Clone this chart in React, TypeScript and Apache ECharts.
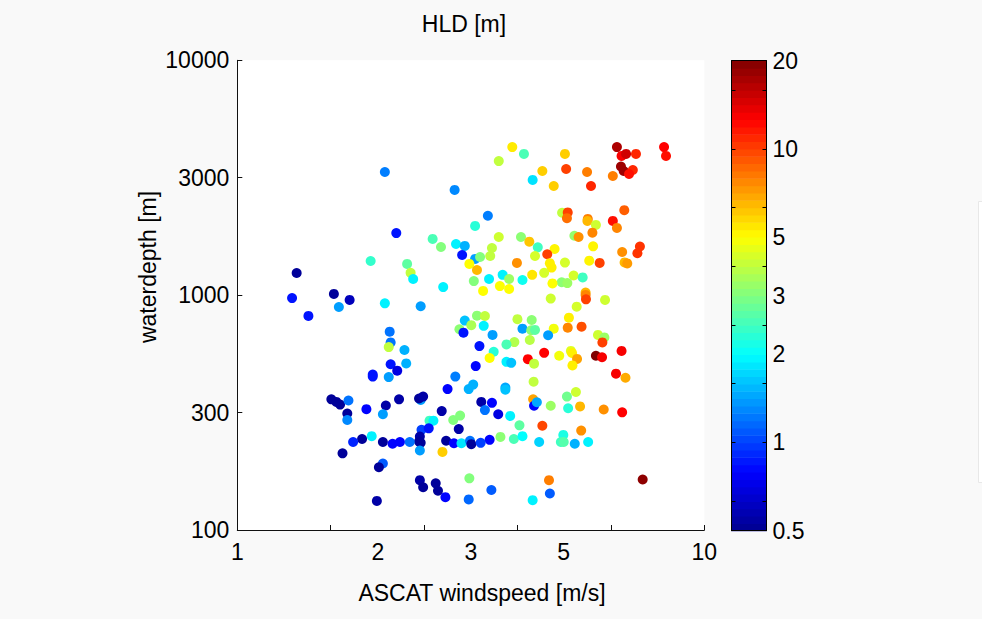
import React, { useEffect, useRef } from "react";
import * as echarts from "echarts";

// ASCAT windspeed [m/s]
const windspeed = [
  1.34, 1.31, 1.42, 1.61, 1.74, 1.65, 2.07, 2.92, 2.19, 1.93, 2.31, 2.35, 2.38, 2.76, 2.62, 2.73, 2.94, 3.07, 3.03, 3.23,
  3.14, 3.26, 3.23, 3.44, 3.21, 3.31, 3.48, 3.51, 3.63, 3.46, 3.36, 3.65, 3.70, 3.82, 3.82, 3.63, 3.88, 4.11, 5.03, 4.50,
  4.29, 4.76, 5.06, 5.61, 5.72, 6.37, 6.50, 6.65, 6.80, 7.14, 6.63, 6.72, 7.03, 6.90, 8.20, 8.28, 4.96, 5.10, 5.08, 5.63,
  5.62, 5.86, 5.76, 6.37, 6.50, 6.74, 5.27, 5.38, 5.78, 5.67, 5.97, 6.67, 7.19, 7.28, 6.75, 6.84, 4.05, 4.22, 4.40, 4.78,
  4.61, 4.34, 3.97, 4.67, 4.71, 5.03, 4.54, 4.28, 4.08, 5.25, 5.49, 4.95, 5.09, 4.73, 4.69, 5.57, 5.57, 5.58, 6.13, 5.33,
  3.98, 4.27, 4.08, 4.26, 4.34, 5.13, 5.10, 5.46, 4.76, 4.63, 3.52, 3.92, 3.77, 4.23, 5.92, 6.11, 6.05, 3.54, 3.47, 3.77,
  3.86, 4.19, 4.32, 4.54, 4.89, 5.18, 5.21, 5.34, 5.22, 5.86, 6.04, 6.65, 6.47, 6.78, 4.31, 3.75, 3.75, 3.51, 3.62, 3.84,
  4.30, 4.32, 4.38, 4.69, 5.08, 5.31, 5.11, 5.42, 6.09, 6.67, 4.02, 4.50, 3.66, 3.91, 4.08, 4.43, 4.99, 4.93, 5.00, 5.28,
  5.45, 5.64, 3.47, 3.14, 3.50, 3.13, 4.65, 7.38, 4.29, 4.67, 3.07, 3.26, 3.39, 2.99, 3.05, 3.17, 3.37, 3.30, 3.24, 2.93,
  2.82, 3.13, 3.20, 3.33, 3.39, 2.74, 2.58, 2.63, 2.90, 3.00, 2.98, 2.48, 2.57, 2.46, 2.45, 2.47, 2.46, 2.75, 2.80, 2.91,
  3.02, 3.15, 3.17, 3.32, 2.12, 2.13, 2.11, 2.28, 2.13, 2.20, 2.30, 1.95, 1.95, 2.11, 2.07, 2.47, 1.59, 1.63, 1.66, 1.73,
  1.72, 1.72, 1.89, 2.08, 2.05, 2.22, 2.47, 2.45, 2.50, 1.94, 1.85, 1.77, 1.68, 2.05, 2.15, 2.23, 2.34, 2.05, 2.01, 1.99,
  2.46, 2.50, 2.66, 2.69, 2.79,
];

// waterdepth [m]
const waterdepth = [
  1243, 972, 816, 1012, 954, 890, 3345, 2807, 1838, 1398, 1358, 1245, 1172, 1082, 1735, 1603, 1651, 1620, 1483, 1426,
  1358, 1280, 1971, 2178, 1148, 1454, 1468, 1587, 1769, 1172, 1042, 1093, 1220, 1172, 1062, 3724, 4270, 3993, 3993, 3378,
  3096, 2915, 3445, 3345, 2915, 3216, 4270, 3915, 3993, 3993, 3530, 3378, 3411, 3280, 4270, 3915, 2244, 2250, 2127, 2112,
  2071, 1991, 1845, 2071, 1933, 2300, 1791, 1769, 1614, 1402, 1372, 1527, 1508, 1611, 1378, 1365, 1769, 1689, 1598, 1572,
  1493, 1468, 1372, 1368, 1310, 1376, 1245, 1220, 1160, 1212, 1190, 1135, 1126, 1122, 967, 1026, 1002, 960, 954, 893,
  790, 784, 720, 709, 711, 802, 727, 734, 720, 675, 677, 631, 617, 644, 677, 661, 629, 574, 540, 520,
  515, 534, 511, 568, 552, 579, 567, 535, 502, 552, 544, 579, 463, 445, 428, 404, 396, 348, 311, 306,
  360, 338, 350, 338, 370, 387, 330, 336, 326, 317, 279, 278, 249, 244, 251, 237, 254, 237, 237, 233,
  265, 237, 242, 166, 148, 135, 163, 164, 134, 143, 779, 818, 815, 716, 692, 745, 740, 607, 499, 450,
  398, 398, 416, 351, 324, 321, 292, 292, 294, 307, 269, 267, 271, 250, 238, 235, 218, 215, 240, 234,
  234, 240, 232, 235, 699, 629, 601, 584, 508, 477, 512, 459, 450, 448, 923, 897, 360, 351, 342, 356,
  313, 294, 327, 339, 311, 360, 358, 363, 370, 251, 244, 237, 212, 237, 233, 237, 237, 192, 185, 133,
  163, 152, 158, 147, 138,
];

// HLD [m]
const hldValues = [
  0.52, 0.85, 0.85, 0.52, 0.6, 1.4, 1.25, 1.3, 0.85, 2.4, 2.8, 4.0, 1.9, 1.9, 2.6, 3.2, 1.9, 1.5, 0.85, 1.4,
  5.0, 6.5, 2.3, 1.25, 3.2, 3.2, 4.0, 4.0, 4.2, 1.9, 5.0, 5.0, 1.9, 3.5, 5.0, 4.0, 5.4, 2.6, 6.0, 6.0,
  1.8, 6.0, 10, 8, 11, 8, 17, 13, 15, 11, 18, 18, 11, 12, 12.6, 12, 4.0, 10, 8.5, 8.0,
  6.5, 4.2, 7.8, 12, 7.8, 9, 3.4, 7.5, 5.2, 5.2, 10, 7.5, 10.5, 10.5, 6.5, 7.2, 3.3, 6.2, 2.5, 5.2,
  10, 4.3, 7.5, 5.3, 5.3, 4.3, 4.3, 5.5, 2.1, 4.3, 2.5, 3.3, 3.5, 5.0, 4.2, 6.5, 7.8, 10, 4.2, 4.3,
  4.0, 3.3, 1.4, 3.3, 2.8, 5.3, 7.8, 9.5, 4.8, 1.4, 1.4, 3.8, 2.6, 3.9, 4.2, 3.5, 10, 2.3, 5.0, 1.9,
  1.6, 12.6, 4.0, 12.6, 4.8, 4.5, 5.3, 7.0, 5.3, 20, 13, 13, 13, 6.8, 4.0, 1.45, 1.6, 0.8, 0.7, 1.9,
  7.0, 0.8, 1.45, 3.5, 3.0, 4.2, 2.3, 6.5, 7.5, 12.6, 2.8, 9.8, 3.3, 2.6, 2.0, 1.7, 2.2, 2.5, 2.7, 1.5,
  7.5, 1.9, 0.8, 3.2, 1.1, 1.15, 8, 19, 1.9, 1.1, 1.6, 3.3, 4.0, 3.3, 0.85, 3.7, 1.9, 0.85, 0.8, 1.25,
  0.8, 1.5, 1.5, 0.55, 1.2, 0.55, 2.5, 1.9, 3.2, 3.2, 0.55, 1.0, 0.85, 0.55, 0.52, 0.52, 1.4, 6, 0.52, 0.8,
  1.8, 1.2, 0.52, 1.0, 1.2, 1.2, 4.0, 1.5, 0.85, 0.7, 1.5, 0.85, 0.85, 1.4, 1.9, 1.4, 0.52, 0.52, 0.52, 1.2,
  0.52, 1.3, 0.8, 0.55, 1.4, 0.55, 1.4, 0.52, 0.55, 1.9, 0.52, 0.9, 0.52, 0.52, 0.8, 0.8, 1.2, 1.1, 0.52, 0.55,
  0.55, 0.52, 0.52, 0.52, 0.8,
];

// Axis ticks and labels
const xTickValues = [1, 1.585, 2.512, 3.981, 6.31, 10];
const xLabelValues = [1, 2, 3.162, 5, 10];
const xLabels = ["1", "2", "3", "5", "10"];
const yTickValues = [100, 316.2, 1000, 3162, 10000];
const yLabels = ["100", "300", "1000", "3000", "10000"];
const cbTickValues = [0.631, 1, 1.585, 2.512, 3.981, 6.31, 10, 15.85];
const cbLabelValues = [0.5, 1, 2, 3.162, 5, 10, 20];
const cbLabels = ["0.5", "1", "2", "3", "5", "10", "20"];
const hldRange = [0.5, 20];

const jetColors = ["#00008F", "#0000FF", "#0080FF", "#00FFFF", "#80FF80", "#FFFF00", "#FF8000", "#FF0000", "#800000"];

const FONT = "Liberation Sans";
const FS = 23;
const TXT = "#000000";
const AX = "#111111";

const lg = Math.log10;

function labelFor(values: number[], labels: string[]) {
  return (v: number) => {
    let best = -1;
    let bd = 1e9;
    values.forEach((a, i) => {
      const d = Math.abs(lg(a) - v);
      if (d < bd) {
        bd = d;
        best = i;
      }
    });
    return bd < 0.01 ? labels[best] : "";
  };
}

export default function App() {
  const ref = useRef<HTMLDivElement>(null);
  useEffect(() => {
    document.body.style.margin = "0";
    const chart = echarts.init(ref.current!, undefined, { renderer: "svg" });

    const cbMin = lg(hldRange[0]);
    const cbMax = lg(hldRange[1]);
    const nBands = 64;
    const bands: number[][] = [];
    for (let i = 0; i < nBands; i++) {
      const y0 = cbMin + ((cbMax - cbMin) * i) / nBands;
      const y1 = cbMin + ((cbMax - cbMin) * (i + 1)) / nBands;
      bands.push([0, y0, (y0 + y1) / 2, y1]);
    }

    const points = windspeed.map((w, i) => [lg(w), lg(waterdepth[i]), lg(hldValues[i])]);

    const gridL = 237.3, gridT = 60.3, gridW = 467, gridH = 469.7;
    const cbL = 731.5, cbT = 60.7, cbW = 35, cbH = 470;

    const option: any = {
      animation: false,
      backgroundColor: "#f9f9f9",
      textStyle: { fontFamily: FONT },
      grid: [
        { left: gridL, top: gridT, width: gridW, height: gridH, show: true, backgroundColor: "#ffffff", borderWidth: 0 },
        { left: cbL, top: cbT, width: cbW, height: cbH, show: false },
      ],
      xAxis: [
        {
          type: "value",
          gridIndex: 0,
          min: 0,
          max: 1,
          axisLine: { show: true, lineStyle: { color: AX, width: 1 } },
          axisTick: { show: true, inside: true, length: 5, lineStyle: { color: AX }, customValues: xTickValues.map(lg) },
          axisLabel: {
            color: TXT,
            fontSize: FS,
            fontFamily: FONT,
            margin: 10,
            customValues: xLabelValues.map(lg),
            formatter: labelFor(xLabelValues, xLabels),
          },
          splitLine: { show: false },
        },
        {
          type: "value",
          gridIndex: 1,
          min: 0,
          max: 1,
          position: "bottom",
          axisLine: { show: true, onZero: false, lineStyle: { color: "#000", width: 1 } },
          axisTick: { show: false },
          axisLabel: { show: false },
          splitLine: { show: false },
          z: 5,
        },
        {
          type: "value",
          gridIndex: 1,
          min: 0,
          max: 1,
          position: "top",
          axisLine: { show: true, onZero: false, lineStyle: { color: "#000", width: 1 } },
          axisTick: { show: false },
          axisLabel: { show: false },
          splitLine: { show: false },
          z: 5,
        },
      ],
      yAxis: [
        {
          type: "value",
          gridIndex: 0,
          min: 2,
          max: 4,
          interval: 0.5,
          axisLine: { show: true, lineStyle: { color: AX, width: 1 } },
          axisTick: { show: true, inside: true, length: 5, lineStyle: { color: AX }, customValues: yTickValues.map(lg) },
          axisLabel: {
            color: TXT,
            fontSize: FS,
            fontFamily: FONT,
            margin: 8,
            customValues: yTickValues.map(lg),
            formatter: labelFor(yTickValues, yLabels),
          },
          splitLine: { show: false },
        },
        {
          type: "value",
          gridIndex: 1,
          min: cbMin,
          max: cbMax,
          position: "right",
          axisLine: { show: true, onZero: false, lineStyle: { color: "#000", width: 1 } },
          axisTick: { show: true, inside: true, length: 4, lineStyle: { color: "#000" }, customValues: cbTickValues.map(lg) },
          axisLabel: {
            color: TXT,
            fontSize: FS,
            fontFamily: FONT,
            margin: 6,
            customValues: cbLabelValues.map(lg),
            formatter: labelFor(cbLabelValues, cbLabels),
          },
          splitLine: { show: false },
          z: 5,
        },
        {
          type: "value",
          gridIndex: 1,
          min: cbMin,
          max: cbMax,
          position: "left",
          axisLine: { show: true, onZero: false, lineStyle: { color: "#000", width: 1 } },
          axisTick: { show: true, inside: true, length: 4, lineStyle: { color: "#000" }, customValues: cbTickValues.map(lg) },
          axisLabel: { show: false },
          splitLine: { show: false },
          z: 5,
        },
      ],
      visualMap: {
        type: "continuous",
        show: false,
        min: cbMin,
        max: cbMax,
        dimension: 2,
        seriesIndex: [0, 1],
        inRange: { color: jetColors },
      },
      graphic: [
        {
          type: "text",
          x: 464,
          y: 24,
          style: { text: "HLD [m]", fill: TXT, font: `${FS}px "${FONT}"`, align: "center", verticalAlign: "middle" },
        },
        {
          type: "text",
          x: 482,
          y: 593,
          style: { text: "ASCAT windspeed [m/s]", fill: TXT, font: `${FS}px "${FONT}"`, align: "center", verticalAlign: "middle" },
        },
        {
          type: "text",
          x: 148,
          y: 267,
          rotation: Math.PI / 2,
          style: { text: "waterdepth [m]", fill: TXT, font: `${FS}px "${FONT}"`, align: "center", verticalAlign: "middle" },
        },
        {
          type: "rect",
          shape: { x: 978.5, y: 201.5, width: 10, height: 281 },
          style: { fill: "#ffffff", stroke: "#e8e8e8", lineWidth: 1 },
        },
      ],
      series: [
        {
          type: "scatter",
          xAxisIndex: 0,
          yAxisIndex: 0,
          symbol: "circle",
          symbolSize: 10,
          data: points,
          itemStyle: { opacity: 1 },
          clip: true,
        },
        {
          type: "custom",
          xAxisIndex: 1,
          yAxisIndex: 1,
          z: 1,
          data: bands,
          encode: { x: 0, y: [1, 3] },
          renderItem: (params: any, api: any) => {
            const p0 = api.coord([0, api.value(1)]);
            const p1 = api.coord([1, api.value(3)]);
            return {
              type: "rect",
              shape: { x: p0[0], y: p1[1], width: p1[0] - p0[0], height: p0[1] - p1[1] + 0.6 },
              style: { fill: api.visual("color") },
            };
          },
        },
      ],
    };
    chart.setOption(option);
    return () => chart.dispose();
  }, []);
  return <div ref={ref} style={{ position: "absolute", left: 0, top: 0, width: 982, height: 619 }} />;
}
